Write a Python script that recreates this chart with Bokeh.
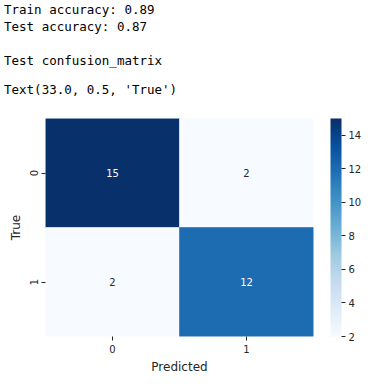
from bokeh.plotting import figure
from bokeh.layouts import column
from bokeh.models import (ColumnDataSource, LinearColorMapper, ColorBar, FixedTicker,
                          FactorRange, Div)
from bokeh.palettes import Blues256
from bokeh.embed import file_html
from bokeh.resources import INLINE
from bokeh.core.properties import value

# ---- data ----
true_labels = ["0", "0", "1", "1"]
pred_labels = ["0", "1", "0", "1"]
counts = [15, 2, 2, 12]
x_factors = ["0", "1"]
y_factors = ["1", "0"]
cbar_ticks = [2, 4, 6, 8, 10, 12, 14]
cmin, cmax = 2, 15
output_lines = ["Train accuracy: 0.89", "Test accuracy: 0.87", "Test confusion_matrix",
                "Text(33.0, 0.5, 'True')"]
x_title = "Predicted"
y_title = "True"

palette = list(reversed(Blues256))
mapper = LinearColorMapper(palette=palette, low=cmin, high=cmax)
text_colors = ["white" if (c - cmin) / (cmax - cmin) > 0.5 else "#262626" for c in counts]

src = ColumnDataSource(dict(x=pred_labels, y=true_labels, v=counts,
                            t=[str(c) for c in counts], tc=text_colors))

# ---- text output area ----
tops = [4.4, 21.4, 55.4, 84.4]
html = "".join(
    f'<div style="position:absolute;left:4px;top:{t}px;white-space:pre;line-height:12.5px;">{line}</div>'
    for line, t in zip(output_lines, tops))
top = Div(text=html, width=382, height=118, margin=0,
          styles={"font-family": "DejaVu Sans Mono", "font-size": "12.5px", "color": "#000000",
                  "position": "relative"})

# ---- heatmap ----
p = figure(width=382, height=270, x_range=FactorRange(*x_factors), y_range=FactorRange(*y_factors),
           output_backend="svg", toolbar_location=None,
           min_border_left=45, min_border_right=69, min_border_top=0, min_border_bottom=52)
p.outline_line_color = None
p.grid.visible = False

p.rect(x="x", y="y", width=1, height=1, source=src,
       fill_color={"field": "v", "transform": mapper},
       line_color={"field": "v", "transform": mapper}, line_width=0.6)
p.text(x="x", y="y", text="t", source=src, text_color="tc", text_align="center",
       text_baseline="middle", text_font=value("DejaVu Sans"), text_font_size="10px")

for ax in (p.xaxis[0], p.yaxis[0]):
    ax.axis_line_color = None
    ax.major_tick_in = 0
    ax.major_tick_out = 4
    ax.major_tick_line_color = "#262626"
    ax.major_label_text_font = "DejaVu Sans"
    ax.major_label_text_font_size = "10px"
    ax.major_label_text_color = "#262626"
    ax.axis_label_text_font = "DejaVu Sans"
    ax.axis_label_text_font_size = "12px"
    ax.axis_label_text_font_style = "normal"
    ax.axis_label_text_color = "#262626"
    ax.major_label_standoff = 4
    ax.axis_label_standoff = 4

p.xaxis.axis_label = x_title
p.yaxis.axis_label = y_title
p.yaxis.major_label_orientation = "vertical"

cb = ColorBar(color_mapper=mapper, ticker=FixedTicker(ticks=cbar_ticks),
              location=(285, 0), width=11, height=218, padding=0,
              bar_line_color=None, border_line_color=None, background_fill_alpha=0,
              major_tick_in=0, major_tick_out=4, major_tick_line_color="#262626",
              minor_tick_line_color=None, label_standoff=3,
              major_label_text_font="DejaVu Sans", major_label_text_font_size="10px",
              major_label_text_color="#262626")
p.add_layout(cb, "center")

layout = column(top, p, spacing=0)
open("out.html", "w").write(file_html(layout, INLINE))
